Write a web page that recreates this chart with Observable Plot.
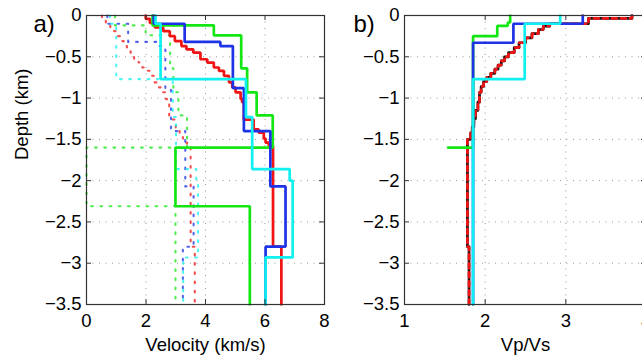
<!DOCTYPE html>
<html><head><meta charset="utf-8">
<script src="https://cdn.jsdelivr.net/npm/d3@7"></script>
<script src="https://cdn.jsdelivr.net/npm/@observablehq/plot@0.6"></script>
<style>
html,body{margin:0;padding:0;background:#fff;overflow:hidden}
#wrap{position:relative;width:642px;height:355px;overflow:hidden}
#wrap svg{position:absolute;top:0;overflow:visible}
</style></head><body><div id="wrap"></div>
<script>
// ---- tick labels ----
const depthTicks = [0, -0.5, -1, -1.5, -2, -2.5, -3, -3.5];
const velTicks = [0, 2, 4, 6, 8];
const ratioTicks = [1, 2, 3, 4];
const bottomDepth = -3.5;

// ---- red model (layer tops, Vp, Vs) ----
const redTop = [0, -0.04, -0.09, -0.145, -0.19, -0.25, -0.31, -0.37, -0.41, -0.45, -0.53, -0.57, -0.63, -0.67, -0.73, -0.81, -0.87, -0.93, -1.01, -1.05, -1.26, -1.38, -1.42, -1.49, -1.54, -1.58, -2.8];
const redVp = [1.99, 2.13, 2.3, 2.58, 2.8, 2.97, 3.19, 3.36, 3.59, 3.83, 4.06, 4.28, 4.45, 4.62, 4.79, 4.9, 5.01, 5.18, 5.23, 5.29, 5.62, 5.79, 5.96, 6.02, 6.13, 6.27, 6.55];
const redVs = [0.52, 0.65, 0.8, 0.93, 1.04, 1.13, 1.25, 1.36, 1.48, 1.6, 1.75, 1.88, 2.0, 2.13, 2.26, 2.4, 2.53, 2.65, 2.7, 2.78, 3.0, 3.13, 3.24, 3.3, 3.38, 3.5, 3.64];
const redRatioTop = [0, -0.035, -0.1, -0.13, -0.17, -0.22, -0.27, -0.33, -0.39, -0.45, -0.5, -0.55, -0.6, -0.65, -0.7, -0.75, -0.8, -0.86, -0.93, -1.05, -1.15, -1.25, -1.35, -1.42, -1.5, -2.8];
const redRatio = [3.82, 3.28, 2.8, 2.72, 2.66, 2.58, 2.5, 2.42, 2.36, 2.29, 2.24, 2.2, 2.16, 2.12, 2.07, 2.02, 1.98, 1.95, 1.93, 1.91, 1.88, 1.86, 1.84, 1.82, 1.78, 1.8];

// ---- green model ----
const greenTop = [0, -0.12, -0.24, -0.64, -0.93, -1.21, -1.6, -2.31];
const greenVp = [2.22, 4.28, 5.2, 5.4, 5.72, 6.26, 2.99, 5.49];
const greenVs = [0.96, 1.99, 2.81, 2.92, 3.09, 3.38, 0, 2.99];
const greenRatioTop = [0, -0.085, -0.125, -0.25, -1.6];
const greenRatio = [2.31, 2.28, 2.15, 1.85, 1.54];
const greenRatioBottom = -1.6;

// ---- blue model ----
const blueTop = [0, -0.1, -0.32, -0.37, -0.88, -1.4, -2.07, -2.8];
const blueVp = [2.26, 3.3, 4.5, 4.92, 5.29, 6.18, 6.69, 6.02];
const blueVs = [0.7, 1.4, 2.42, 2.65, 2.84, 3.32, 3.6, 3.24];
const blueRatioTop = [0, -0.1, -0.33];
const blueRatio = [3.21, 2.35, 1.85];

// ---- cyan model ----
const cyanTop = [0, -0.1, -0.77, -1.23, -1.86, -2.0, -2.93];
const cyanVp = [2.32, 2.49, 5.36, 5.57, 6.83, 6.93, 6.02];
const cyanVs = [0.79, 1.0, 2.9, 3.01, 3.69, 3.75, 3.25];
const cyanRatioTop = [0, -0.1, -0.77];
const cyanRatio = [2.93, 2.49, 1.85];

// ---- colours ----
const RED = "#f01414", GREEN = "#14e614", BLUE = "#1e32e6", CYAN = "#10f0f0";

function profile(tops, vals, bottom) {
  const pts = tops.map((t, i) => ({x: vals[i], y: t}));
  pts.push({x: vals[vals.length - 1], y: bottom});
  return pts;
}
const fmt = d3.format("");
const FONT = "'Liberation Sans', Arial, Helvetica, sans-serif";
const H = 355, MT = 15, MB = 51;
const PH = H - MT - MB;

function solid(data, color, extra = {}) {
  return Plot.line(data, {x: "x", y: "y", curve: "step-before", stroke: color, strokeWidth: 2.7, strokeLinejoin: "miter", ...extra});
}
function dotted(data, color) {
  return Plot.line(data, {x: "x", y: "y", curve: "step-before", stroke: color, strokeWidth: 2.1, strokeDasharray: "1.7,7.5", strokeOpacity: 0.75});
}
function commonMarks(xGrid) {
  return [
    Plot.ruleX(xGrid, {x: d => d, stroke: "#999", strokeDasharray: "1,5.5"}),
    Plot.ruleY(depthTicks.slice(1, -1), {y: d => d, stroke: "#999", strokeDasharray: "1,5.5"})
  ];
}
function frameMarks(xt, pw) {
  return [
    Plot.tickX(xt, {x: d => d, insetTop: PH - 5, stroke: "#333"}),
    Plot.tickX(xt, {x: d => d, insetBottom: PH - 5, stroke: "#333"}),
    Plot.tickY(depthTicks, {y: d => d, insetRight: pw - 5, stroke: "#333"}),
    Plot.tickY(depthTicks, {y: d => d, insetLeft: pw - 5, stroke: "#333"}),
    Plot.frame({stroke: "#333", strokeWidth: 1.2}),
    Plot.axisX(xt, {anchor: "bottom", tickSize: 0, tickPadding: 9, tickFormat: fmt, label: null}),
    Plot.axisY(depthTicks, {anchor: "left", tickSize: 0, tickPadding: 5, tickFormat: fmt, label: null})
  ];
}

// ---- Panel a ----
const pa = Plot.plot({
  width: 330, height: H,
  marginLeft: 86, marginRight: 6, marginTop: MT, marginBottom: MB,
  style: {fontFamily: FONT, fontSize: "18.5px", color: "black", background: "transparent"},
  x: {domain: [0, 8]},
  y: {domain: [bottomDepth, 0]},
  marks: [
    ...commonMarks([2, 4, 6]),
    dotted(profile(redTop, redVs, bottomDepth), RED),
    dotted(profile(greenTop, greenVs, bottomDepth), GREEN),
    dotted(profile(blueTop, blueVs, bottomDepth), BLUE),
    dotted(profile(cyanTop, cyanVs, bottomDepth), CYAN),
    solid(profile(redTop, redVp, bottomDepth), RED),
    solid(profile(greenTop, greenVp, bottomDepth), GREEN),
    solid(profile(blueTop, blueVp, bottomDepth), BLUE),
    solid(profile(cyanTop, cyanVp, bottomDepth), CYAN),
    ...frameMarks(velTicks, 238),
    Plot.text(["Velocity (km/s)"], {frameAnchor: "bottom", dy: 41, lineAnchor: "middle", fontSize: 18.5}),
    Plot.text(["Depth (km)"], {frameAnchor: "left", rotate: -90, dx: -64, lineAnchor: "middle", fontSize: 18.5}),
    Plot.text(["a)"], {frameAnchor: "top-left", dx: -53, dy: 9, textAnchor: "start", lineAnchor: "middle", fontSize: 24})
  ]
});

// ---- Panel b ----
const pb = Plot.plot({
  width: 330, height: H,
  marginLeft: 74, marginRight: 14, marginTop: MT, marginBottom: MB,
  style: {fontFamily: FONT, fontSize: "18.5px", color: "black", background: "transparent"},
  x: {domain: [1, 4]},
  y: {domain: [bottomDepth, 0]},
  marks: [
    ...commonMarks([2, 3]),
    Plot.line(profile(redRatioTop, redRatio, bottomDepth), {x: "x", y: "y", curve: "step-before", stroke: "#111", strokeWidth: 2.7}),
    solid(profile(redRatioTop, redRatio, bottomDepth), RED, {strokeDasharray: "5,4"}),
    solid(profile(greenRatioTop, greenRatio, greenRatioBottom), GREEN),
    solid(profile(blueRatioTop, blueRatio, bottomDepth), BLUE),
    solid(profile(cyanRatioTop, cyanRatio, bottomDepth), CYAN),
    ...frameMarks(ratioTicks, 242),
    Plot.text(["Vp/Vs"], {frameAnchor: "bottom", dy: 41, lineAnchor: "middle", fontSize: 18.5}),
    Plot.text(["b)"], {frameAnchor: "top-left", dx: -51, dy: 9, textAnchor: "start", lineAnchor: "middle", fontSize: 24})
  ]
});

const wrap = document.getElementById("wrap");
pa.style.left = "0px";
pb.style.left = "330px";
wrap.appendChild(pa);
wrap.appendChild(pb);
</script></body></html>
